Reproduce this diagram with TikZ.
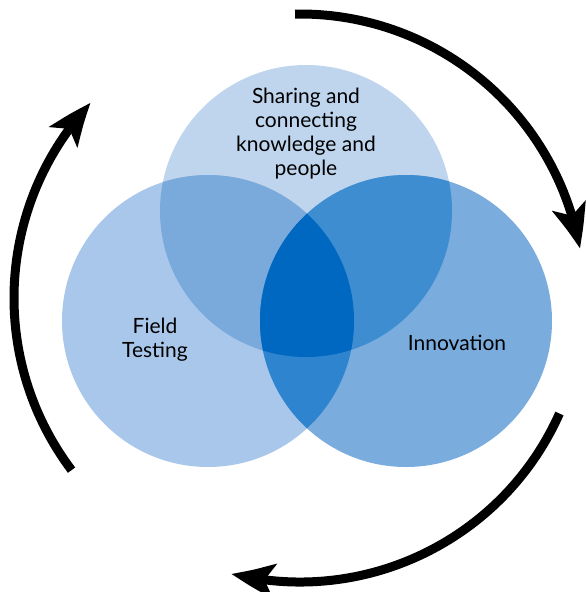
\documentclass[tikz,border=0pt]{standalone}
\usepackage{fontspec}
\setmainfont{Lato}
\usetikzlibrary{arrows.meta,bending}

\definecolor{topOnly}{HTML}{BFD5EE}
\definecolor{leftOnly}{HTML}{A9C7EA}
\definecolor{rightOnly}{HTML}{7AACDD}
\definecolor{topLeft}{HTML}{7AAADB}
\definecolor{topRight}{HTML}{3F8DD1}
\definecolor{leftRight}{HTML}{2F84CF}
\definecolor{allThree}{HTML}{0068C0}

\tikzset{
  label text/.style={font=\fontsize{21}{24}\selectfont, align=center, text=black},
  cycle arrow/.style={line width=9pt, -{Stealth[length=44pt,width=34pt,inset=10pt,bend]}},
}

\begin{document}
\begin{tikzpicture}[x=1pt,y=-1pt]
\useasboundingbox (0,0) rectangle (586,592);

% circle centres
\coordinate (ct) at (306,211);
\coordinate (cl) at (208,321);
\coordinate (cr) at (406,321);
\coordinate (hub) at (300,298);
\def\R{146}

% plain discs
\fill[topOnly] (ct) circle (\R);
\fill[leftOnly] (cl) circle (\R);
\fill[rightOnly] (cr) circle (\R);

% overlaps with the top disc
\begin{scope}
  \clip (ct) circle (\R);
  \fill[topLeft] (cl) circle (\R);
  \fill[topRight] (cr) circle (\R);
\end{scope}

% overlap of the two lower discs, and the common centre
\begin{scope}
  \clip (cl) circle (\R);
  \fill[leftRight] (cr) circle (\R);
  \clip (cr) circle (\R);
  \fill[allThree] (ct) circle (\R);
\end{scope}

% labels
\node[label text] (share) at (306,134) {Sharing and\\connecting\\knowledge and\\people};
\node[label text] (field) at (155,340) {Field\\Testing};
\node[label text] (innov) at (457,343) {Innovation};

% cycle arrows around the diagram
\draw[cycle arrow] (hub) ++(-91:284) arc[start angle=-91, end angle=-10, radius=284];
\draw[cycle arrow] (hub) ++(24:284) arc[start angle=24, end angle=104, radius=284];
\draw[cycle arrow] (hub) ++(143:286) arc[start angle=143, end angle=223, radius=286];
\end{tikzpicture}
\end{document}
